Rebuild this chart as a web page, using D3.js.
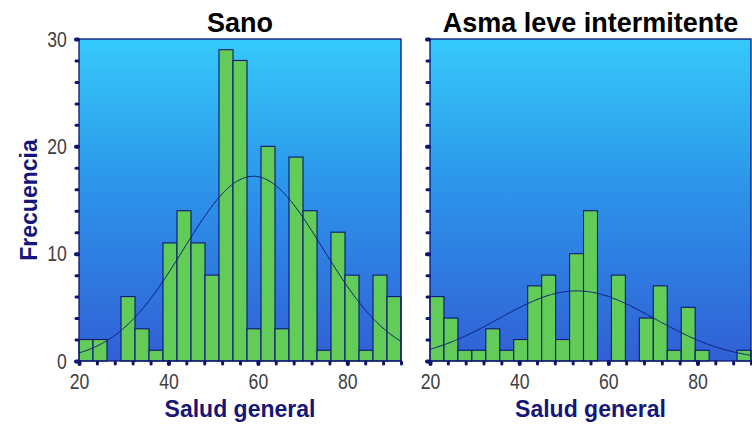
<!DOCTYPE html>
<html>
<head>
<meta charset="utf-8">
<script src="https://cdn.jsdelivr.net/npm/d3@7"></script>
<style>
  html, body { margin: 0; padding: 0; background: #ffffff; }
  svg { display: block; }
  .tick-label text { font-family: "Liberation Sans", Arial, sans-serif; font-size: 22px; fill: #404040; }
</style>
</head>
<body>
<svg id="chart" width="752" height="426"></svg>
<script>
// Histogram bins: 23 equal bins spanning the x range
const binMin = 20;
const binMax = 92;
const binCount = 23;

const panelTitles = ["Sano", "Asma leve intermitente"];

// Frequencies per bin, left to right
const countsSano = [2, 2, 0, 6, 3, 1, 11, 14, 11, 8, 29, 28, 3, 20, 3, 19, 14, 1, 12, 8, 1, 8, 6];
const countsAsma = [6, 4, 1, 1, 3, 1, 2, 7, 8, 2, 10, 14, 0, 8, 0, 4, 7, 1, 5, 1, 0, 0, 1];

// Fitted normal curve parameters: [mean, sd, n]
const normalSano = [59.0, 15.6, 215];
const normalAsma = [52.9, 17.4, 91];

const xTickLabels = [20, 40, 60, 80];
const yTickLabels = [0, 10, 20, 30];

const panels = [
  { title: panelTitles[0], counts: countsSano, fit: normalSano, left: 79, right: 401, yLabels: true },
  { title: panelTitles[1], counts: countsAsma, fit: normalAsma, left: 430, right: 751, yLabels: false }
];

const svg = d3.select("#chart");
const plotTop = 39, plotBottom = 361;
const navy = "#0c1670";

const defs = svg.append("defs");
const grad = defs.append("linearGradient").attr("id", "bg").attr("x1", 0).attr("y1", 0).attr("x2", 0).attr("y2", 1);
grad.append("stop").attr("offset", "0%").attr("stop-color", "#35c9fb");
grad.append("stop").attr("offset", "50%").attr("stop-color", "#2c90e8");
grad.append("stop").attr("offset", "100%").attr("stop-color", "#3160d5");

const binWidth = (binMax - binMin) / binCount;

// horizontal squeeze for the condensed tick-label digits
const narrowScale = 0.8;

panels.forEach(p => {
  const x = d3.scaleLinear().domain([binMin, binMax]).range([p.left, p.right]);
  const y = d3.scaleLinear().domain([0, 30]).range([plotBottom, plotTop]);
  const g = svg.append("g");

  g.append("rect")
    .attr("x", p.left).attr("y", plotTop)
    .attr("width", p.right - p.left).attr("height", plotBottom - plotTop)
    .attr("fill", "url(#bg)");

  // bars
  const bins = p.counts.map((c, i) => ({ x0: binMin + i * binWidth, x1: binMin + (i + 1) * binWidth, c }));
  g.selectAll("rect.bar").data(bins.filter(b => b.c > 0)).join("rect")
    .attr("class", "bar")
    .attr("x", d => x(d.x0))
    .attr("y", d => y(d.c))
    .attr("width", d => x(d.x1) - x(d.x0))
    .attr("height", d => y(0) - y(d.c))
    .attr("fill", "#62cc58")
    .attr("stroke", navy)
    .attr("stroke-width", 1.1);

  // normal curve
  const [mu, sd, n] = p.fit;
  const pts = d3.range(binMin, binMax + 0.01, 0.25).map(v => [v, n * binWidth / (sd * Math.sqrt(2 * Math.PI)) * Math.exp(-((v - mu) ** 2) / (2 * sd * sd))]);
  g.append("path")
    .attr("d", d3.line().x(d => x(d[0])).y(d => y(d[1]))(pts))
    .attr("fill", "none")
    .attr("stroke", "#101a78")
    .attr("stroke-width", 1);

  // frame
  g.append("rect")
    .attr("x", p.left).attr("y", plotTop)
    .attr("width", p.right - p.left).attr("height", plotBottom - plotTop)
    .attr("fill", "none").attr("stroke", navy).attr("stroke-width", 1.3);

  // minor ticks (dots)
  const xMinor = g.append("g").attr("transform", `translate(0,${plotBottom + 1})`)
    .call(d3.axisBottom(x).tickValues(d3.range(binMin, binMax + 0.01, 4)).tickSize(2).tickFormat(""));
  const yMinor = g.append("g").attr("transform", `translate(${p.left - 1},0)`)
    .call(d3.axisLeft(y).tickValues(d3.range(0, 30.01, 2)).tickSize(2).tickFormat(""));
  [xMinor, yMinor].forEach(a => {
    a.select(".domain").remove();
    a.selectAll(".tick line").attr("stroke", navy).attr("stroke-width", 3).attr("stroke-linecap", "round");
  });

  // major ticks with labels
  const xMajor = g.append("g").attr("class", "tick-label").attr("transform", `translate(0,${plotBottom + 1})`)
    .call(d3.axisBottom(x).tickValues(xTickLabels).tickSize(2).tickPadding(9).tickFormat(d3.format("d")));
  const yMajor = g.append("g").attr("class", "tick-label").attr("transform", `translate(${p.left - 1},0)`)
    .call(d3.axisLeft(y).tickValues(yTickLabels).tickSize(2).tickPadding(12).tickFormat(p.yLabels ? d3.format("d") : ""));
  [xMajor, yMajor].forEach(a => {
    a.select(".domain").remove();
    a.selectAll(".tick line").attr("stroke", navy).attr("stroke-width", 4).attr("stroke-linecap", "round");
    a.selectAll("text").attr("transform", `scale(${narrowScale},1)`);
  });
  xMajor.selectAll("text").attr("dy", "0.71em");

  // title
  svg.append("text")
    .attr("x", (p.left + p.right) / 2).attr("y", 32)
    .attr("text-anchor", "middle")
    .style("font-family", "'Liberation Sans', Arial, sans-serif")
    .style("font-weight", "bold").style("font-size", "27px").style("fill", "#000")
    .text(p.title);

  // x axis label
  svg.append("text")
    .attr("x", (p.left + p.right) / 2).attr("y", 417)
    .attr("text-anchor", "middle")
    .style("font-family", "'Liberation Sans', Arial, sans-serif")
    .style("font-weight", "bold").style("font-size", "23px").style("fill", "#16167a")
    .text("Salud general");
});

// y axis label
svg.append("text")
  .attr("transform", `translate(37,${(plotTop + plotBottom) / 2}) rotate(-90)`)
  .attr("text-anchor", "middle")
  .style("font-family", "'Liberation Sans', Arial, sans-serif")
  .style("font-weight", "bold").style("font-size", "23px").style("fill", "#16167a")
  .text("Frecuencia");
</script>
</body>
</html>
